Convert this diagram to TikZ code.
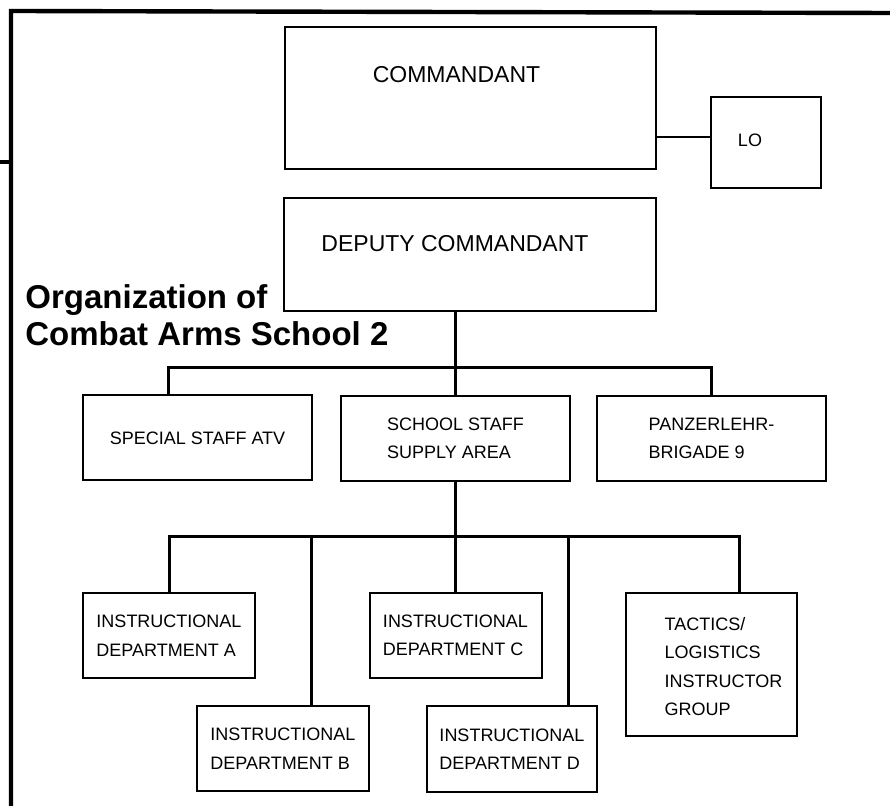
\documentclass[tikz,border=0pt]{standalone}
\usepackage{fontspec}
\setmainfont{Liberation Sans}
\begin{document}
\begin{tikzpicture}[x=0.5pt,y=-0.5pt,
  box/.style={draw,line width=1pt,inner sep=0pt,align=left,
    font=\fontsize{9}{14.25}\selectfont},
  big/.style={font=\fontsize{11.5}{14}\selectfont},
  small/.style={font=\fontsize{9}{14.25}\selectfont,align=left},
  title/.style={font=\fontsize{16.5}{18.5}\selectfont\bfseries,align=left,inner sep=0pt},
  link/.style={line width=1.5pt},
  thinlink/.style={line width=1.1pt},
  frame/.style={line width=2.2pt}]
  \useasboundingbox (0,0) rectangle (890,806);
  % frame
  \draw[frame] (0,162) -- (11,162);
  \draw[frame] (11,806) -- (11,11) -- (890,13);
  % top of the chart
  \node[box,minimum width=185.5pt,minimum height=71pt,
    label={[big,xshift=-7pt,yshift=11.5pt]center:COMMANDANT}] (cmd) at (470.5,98) {};
  \node[box,minimum width=55pt,minimum height=45.5pt,
    label={[small,xshift=-8pt,yshift=1pt]center:LO}] (lo) at (766,142.5) {};
  \node[box,minimum width=186pt,minimum height=56.5pt,
    label={[big,xshift=-7.5pt,yshift=5.5pt]center:DEPUTY COMMANDANT}] (dep) at (470,254.5) {};
  \node[title,anchor=base west] (ttl) at (25,346) {Organization of\\Combat Arms School 2};
  % second row
  \node[box,minimum width=114.5pt,minimum height=42.5pt] (spec) at (197.5,438) {SPECIAL STAFF ATV};
  \node[box,minimum width=114.5pt,minimum height=42.5pt] (sss) at (455.5,438.5) {SCHOOL STAFF\\SUPPLY AREA};
  \node[box,minimum width=114.5pt,minimum height=42.5pt] (pzb) at (711.5,438.5) {PANZERLEHR-\\BRIGADE 9};
  % departments
  \node[box,minimum width=86pt,minimum height=42.5pt] (dpa) at (169,635.5) {INSTRUCTIONAL\\DEPARTMENT A};
  \node[box,minimum width=86pt,minimum height=42.5pt] (dpc) at (455.5,635.5) {INSTRUCTIONAL\\DEPARTMENT C};
  \node[box,minimum width=86pt,minimum height=42.5pt] (dpb) at (283,748.5) {INSTRUCTIONAL\\DEPARTMENT B};
  \node[box,minimum width=85pt,minimum height=43pt] (dpd) at (512,749) {INSTRUCTIONAL\\DEPARTMENT D};
  \node[box,minimum width=85.5pt,minimum height=71.5pt,
    label={[small,xshift=6pt,yshift=-1pt]center:TACTICS/\\LOGISTICS\\INSTRUCTOR\\GROUP}] (tlg) at (711.5,664.5) {};
  % connectors
  \coordinate (bus1) at (0,368);
  \coordinate (bus2) at (0,537);
  \draw[thinlink] ([yshift=2.75pt]lo.west) -- ([yshift=2.75pt]lo.west -| cmd.east);
  \draw[link] (sss.north |- dep.south) -- (sss.north);
  \draw[link] ([xshift=-14.75pt]spec.north) |- (pzb.north |- bus1) -- (pzb.north);
  \draw[link] (sss.south) -- (dpc.north);
  \draw[link] (dpa.north) |- ([xshift=13.75pt]tlg.north |- bus2) -- ([xshift=13.75pt]tlg.north);
  \draw[link] ([xshift=14pt]dpb.north) -- ([xshift=14pt]dpb.north |- bus2);
  \draw[link] ([xshift=28pt]dpd.north) -- ([xshift=28pt]dpd.north |- bus2);
\end{tikzpicture}
\end{document}
